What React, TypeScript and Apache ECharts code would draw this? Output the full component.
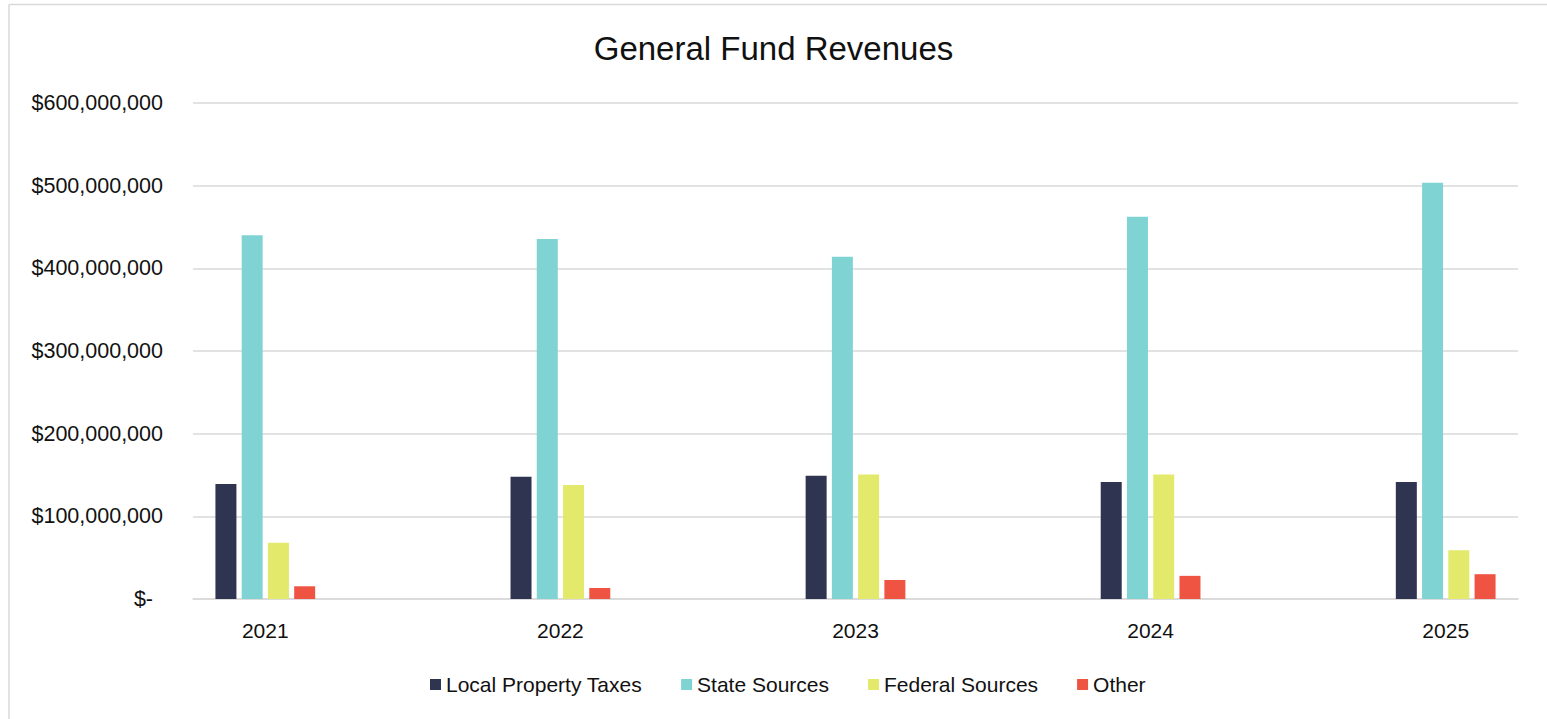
import React, { useEffect, useRef } from "react";
import * as echarts from "echarts";

const years = ["2021", "2022", "2023", "2024", "2025"];
const seriesNames = ["Local Property Taxes", "State Sources", "Federal Sources", "Other"];
const localPropertyTaxes = [139000000, 148000000, 149000000, 141500000, 141500000];
const stateSources = [440000000, 435500000, 414000000, 462500000, 503500000];
const federalSources = [68000000, 138000000, 150700000, 150700000, 59000000];
const other = [15400000, 13300000, 23000000, 28000000, 30000000];
const colors = ["#2F3450", "#7FD4D3", "#E2E96B", "#EE5441"];
const yTicks = [0, 100000000, 200000000, 300000000, 400000000, 500000000, 600000000];

const FONT = "'Liberation Sans', Arial, sans-serif";

export default function App() {
  const ref = useRef<HTMLDivElement>(null);
  useEffect(() => {
    if (!ref.current) return;
    const chart = echarts.init(ref.current, null, { renderer: "svg" });
    const allSeries = [localPropertyTaxes, stateSources, federalSources, other];
    chart.setOption({
      animation: false,
      backgroundColor: "#ffffff",
      textStyle: { fontFamily: FONT },
      title: {
        text: "General Fund Revenues",
        left: "center",
        top: 27,
        textStyle: { fontFamily: FONT, fontSize: 33, fontWeight: "normal", color: "#111" },
      },
      graphic: [
        {
          type: "line",
          shape: { x1: 9, y1: 4.5, x2: 1547, y2: 4.5 },
          style: { stroke: "#D9D9D9", lineWidth: 1.5 },
        },
        {
          type: "line",
          shape: { x1: 9, y1: 4.5, x2: 9, y2: 719 },
          style: { stroke: "#D9D9D9", lineWidth: 1.5 },
        },
      ],
      legend: {
        left: 425,
        top: 669,
        itemWidth: 11,
        itemHeight: 11,
        itemGap: 39,
        icon: "rect",
        textStyle: { fontFamily: FONT, fontSize: 21, color: "#111" },
        data: seriesNames,
      },
      grid: { left: 193, right: 29, top: 103, bottom: 120, containLabel: false },
      xAxis: {
        type: "value",
        min: -0.245,
        max: 4.245,
        splitLine: { show: false },
        axisTick: { show: false },
        axisLine: { show: true, onZero: false, lineStyle: { color: "#D9D9D9", width: 1.5 } },
        axisLabel: {
          customValues: [0, 1, 2, 3, 4],
          formatter: (v: number) => years[Math.round(v)] ?? "",
          margin: 21,
          fontFamily: FONT,
          fontSize: 21,
          color: "#111",
        },
      },
      yAxis: {
        type: "value",
        min: yTicks[0],
        max: yTicks[yTicks.length - 1],
        interval: yTicks[1] - yTicks[0],
        axisLine: { show: false },
        axisTick: { show: false },
        splitLine: { lineStyle: { color: "#D9D9D9", width: 1.5 } },
        axisLabel: {
          margin: 30,
          fontFamily: FONT,
          fontSize: 21.5,
          color: "#111",
          formatter: (v: number) =>
            v === 0 ? "{z|$-}" : "$" + v.toLocaleString("en-US"),
          rich: {
            z: { fontFamily: FONT, fontSize: 21.5, color: "#111", padding: [0, 10, 0, 0] },
          },
        },
      },
      series: allSeries.map((arr, i) => ({
        name: seriesNames[i],
        type: "bar",
        barWidth: 21,
        barGap: "25%",
        itemStyle: { color: colors[i] },
        data: arr.map((v, j) => [j, v]),
      })),
    });
    return () => chart.dispose();
  }, []);
  return (
    <div
      ref={ref}
      style={{ position: "absolute", left: 0, top: 0, width: 1547, height: 719 }}
    />
  );
}
